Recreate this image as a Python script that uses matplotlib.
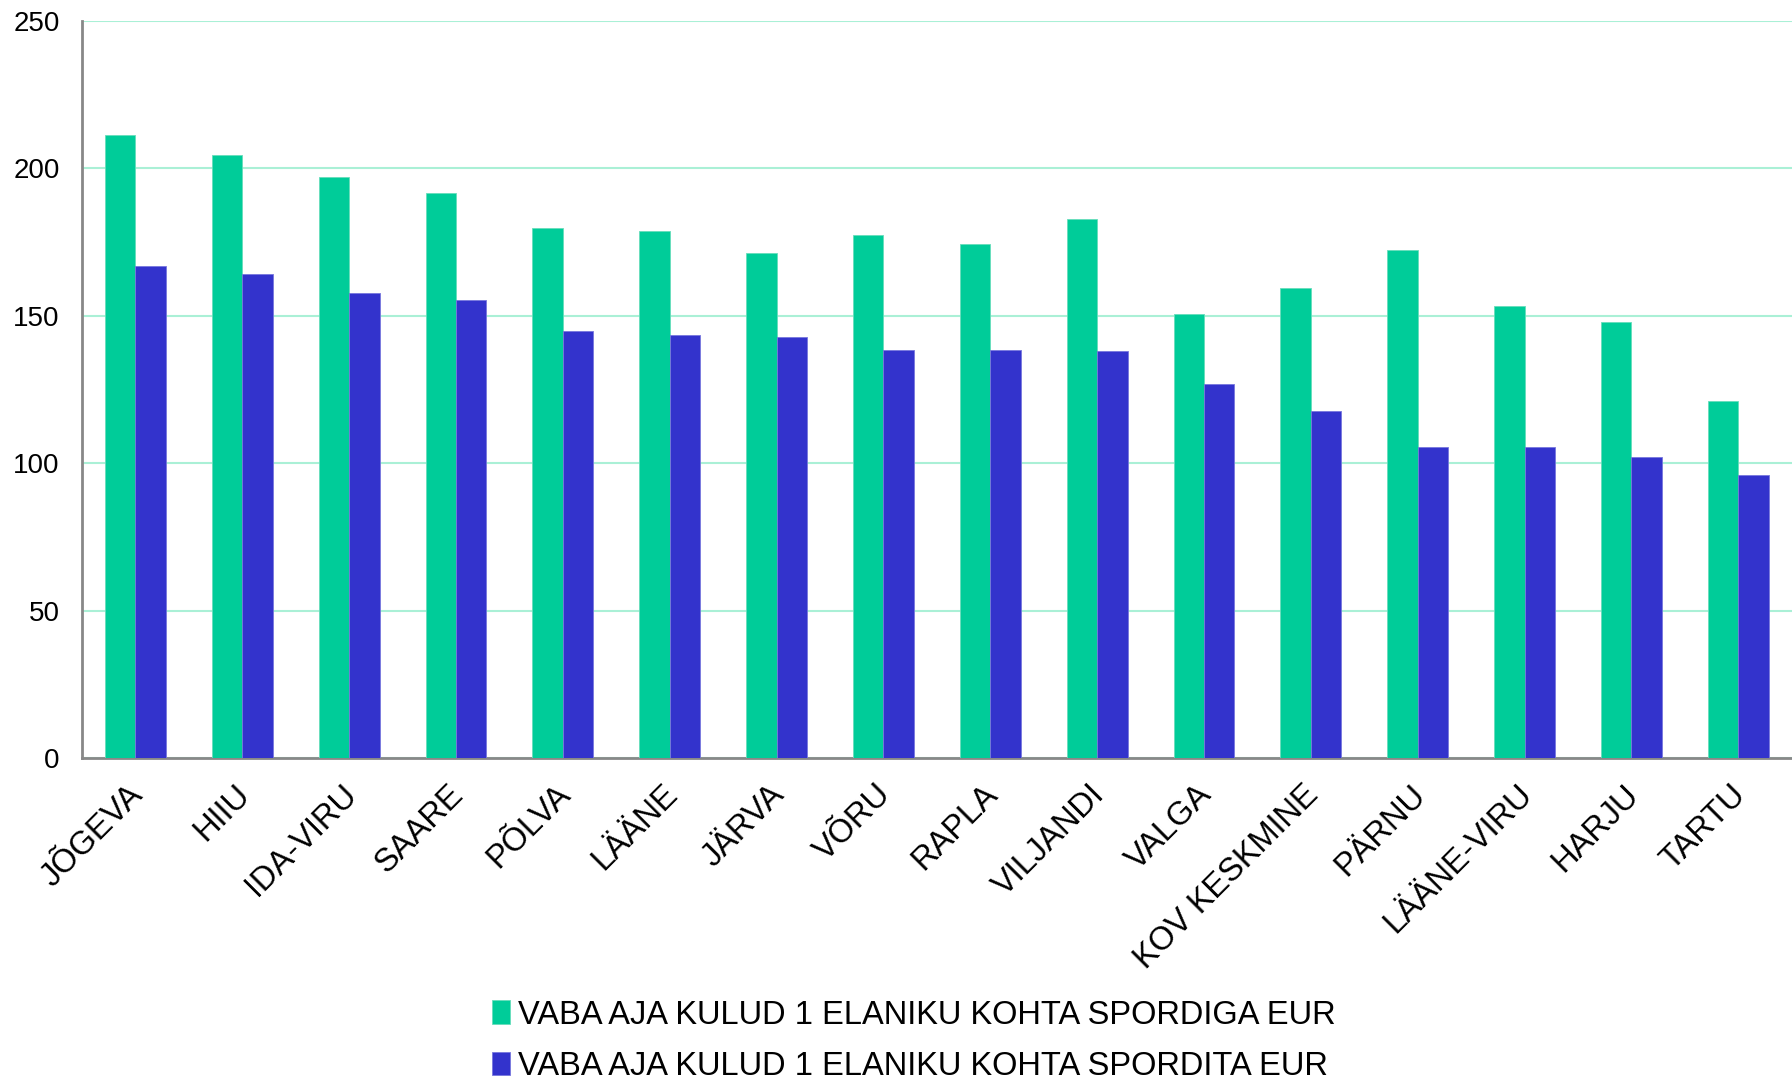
import numpy as np
import matplotlib
matplotlib.use("Agg")
import matplotlib.pyplot as plt
from matplotlib.transforms import ScaledTranslation

plt.rcParams['font.family'] = ['Liberation Sans', 'DejaVu Sans']

# data
counties = ["JÕGEVA", "HIIU", "IDA-VIRU", "SAARE", "PÕLVA", "LÄÄNE", "JÄRVA", "VÕRU",
            "RAPLA", "VILJANDI", "VALGA", "KOV KESKMINE", "PÄRNU", "LÄÄNE-VIRU", "HARJU", "TARTU"]
with_sport = [211.3, 204.4, 197.0, 191.7, 179.8, 178.6, 171.1, 177.2,
              174.2, 182.9, 150.7, 159.5, 172.4, 153.4, 147.9, 121.1]
without_sport = [166.7, 164.2, 157.8, 155.2, 144.9, 143.5, 142.9, 138.4,
                 138.2, 137.9, 126.7, 117.6, 105.6, 105.3, 102.2, 95.8]
series_names = ["VABA AJA KULUD 1 ELANIKU KOHTA SPORDIGA EUR",
                "VABA AJA KULUD 1 ELANIKU KOHTA SPORDITA EUR"]
green = "#00CC99"
blue = "#3333CC"

fig = plt.figure(figsize=(17.92, 10.83), dpi=100)
ax = fig.add_axes([0.0458, 0.300, 0.954, 0.681])

x = np.arange(len(counties))
w = 0.285
b1 = ax.bar(x - w / 2, with_sport, w, color=green, edgecolor="#66ddbb", linewidth=0.6,
            label=series_names[0], zorder=3)
b2 = ax.bar(x + w / 2, without_sport, w, color=blue, edgecolor="#7777dd", linewidth=0.6,
            label=series_names[1], zorder=3)

ax.set_xlim(-0.5, len(counties) - 0.5)
ax.set_ylim(0, 250)
ax.set_yticks(range(0, 251, 50))
ax.yaxis.grid(True, color="#aaf0d6", linewidth=1.5, zorder=0)
ax.set_axisbelow(True)

for s in ["top", "right"]:
    ax.spines[s].set_visible(False)
for s in ["left", "bottom"]:
    ax.spines[s].set_color("#888888")
    ax.spines[s].set_linewidth(2)

ax.tick_params(axis="y", length=0, pad=16, labelsize=20)
ax.tick_params(axis="x", length=0, pad=15, labelsize=23.5)
ax.set_xticks(x)
ax.set_xticklabels(counties, rotation=45, ha="right", rotation_mode="anchor")
# nudge the slanted labels a little to the left
for lbl in ax.get_xticklabels():
    lbl.set_transform(lbl.get_transform() + ScaledTranslation(-0.08, 0, fig.dpi_scale_trans))

fig.legend(handles=[b1, b2], labels=series_names, loc="center",
           bbox_to_anchor=(0.51, 0.039), ncol=1, frameon=False, fontsize=23.5,
           handlelength=0.55, handleheight=0.75, handletextpad=0.25, labelspacing=0.62,
           borderpad=0.2)

fig.savefig("out.png", dpi=100)
